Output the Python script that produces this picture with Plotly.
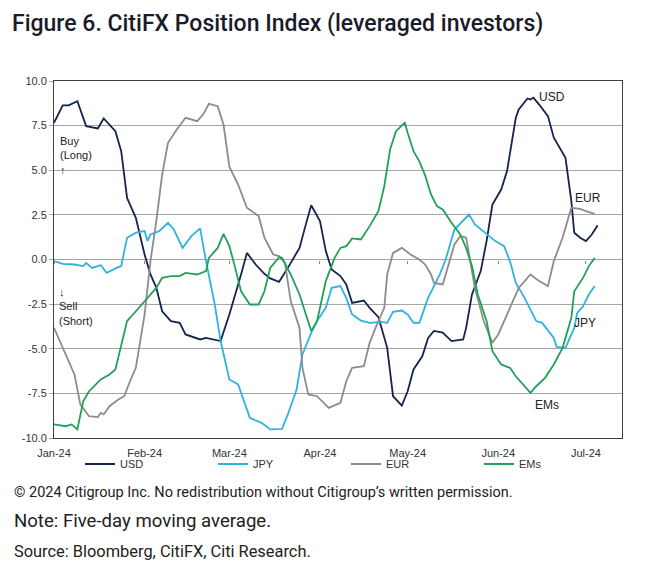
import numpy as np
import pandas as pd
import plotly.graph_objects as go

# ---- data (days since 2024-01-01, index value) ----
usd_day = [0,3,5,8,11, 15,17,21,23,24, 25,28,31,33,35, 37,40,43,45,50, 52,57,60,64,66,
           69,72,74,77,80, 84,86,88,91,93, 95,98,100,102,106, 108,111,114,116,119,
           121,123,126,128,130, 133,136,140,141,143, 146,148,150,153,155,
           158,159,162,163,164, 166,169,171,175,177, 178,180,182,184,186]
usd_val = [7.66,8.64,8.64,8.87,7.47, 7.34,7.9,7.19,6.07,4.76, 3.45,2.33,0.28,-0.84,-1.57,
           -2.9,-3.45,-3.55,-4.2,-4.48, -4.39,-4.57,-3.08,-0.84,0.37, -0.28,-0.8,-1.06,-1.25,-0.47,
           0.65,1.87,3.04,2.15,0.47, -0.56,-0.93,-1.4,-2.43,-2.3, -2.71,-3.23,-4.95,-7.66,-8.18,
           -7.38,-6.16,-5.42,-4.39,-4.0, -4.1,-4.57,-4.48,-3.83,-1.96, -0.65,1.03,3.08,3.92,4.95,
           7.94,8.4,9.02,8.96,9.06, 8.68,8.03,6.82,5.7,3.27, 1.5,1.22,1.03,1.4,1.92]

eur_day = [0,3,7,9,12, 15,16,17,19,22, 24,26,28,31,33, 35,37,39,42,45, 49,51,53,56,58,
           60,63,66,70,72, 75,77,79,81,84, 85,87,90,94,98, 100,102,106,108,110,
           113,114,116,119,122, 125,127,129,130,133, 134,137,139,141,142,
           144,147,150,152,154, 157,159,163,166,169, 171,174,177,180,182, 185]
eur_val = [-3.83,-4.95,-6.44,-8.12,-8.78, -8.83,-8.59,-8.68,-8.22,-7.84, -7.66,-6.82,-6.07,-3.08,-0.09,
           2.15,4.76,6.54,7.28,7.94, 7.75,8.12,8.72,8.59,7.56, 5.2,4.2,2.9,2.43,1.22,
           0.28,0.19,-0.19,-2.33,-3.83, -6.07,-7.56,-7.66,-8.31,-8.03, -6.82,-6.07,-5.98,-4.67,-3.83,
           -2.71,-0.84,0.37,0.65,0.28, 0,-0.28,-0.84,-1.31,-1.4, -0.84,0.84,1.31,1.22,0.28,
           -1.59,-3.45,-4.67,-4.2,-3.45, -2.33,-1.59,-0.84,-1.21,-1.49, -0.09,1.22,2.9,2.84,2.71, 2.56]

jpy_day = [0,3,7,10,11, 13,16,18,21,23, 25,28,31,32,33, 36,39,41,44,47, 50,52,55,57,60,
           63,67,71,74,78, 80,83,85,88,90, 93,95,98,100,102, 105,108,112,114,116,
           119,121,123,125,128, 132,134,137,140,142, 144,148,151,154,156,
           158,161,165,167,171, 172,175,178,179,181, 183,185]
jpy_val = [-0.09,-0.24,-0.28,-0.37,-0.19, -0.47,-0.32,-0.75,-0.5,-0.37, 1.22,1.5,1.59,1.03,1.4,
           1.59,2.06,1.68,0.65,1.31, 1.74,-0.09,-2.52,-4.57,-6.72, -7.0,-8.87,-9.15,-9.52,-9.49,
           -8.68,-7.28,-5.32,-4.11,-3.45, -2.71,-1.59,-1.49,-2.15,-3.08, -3.42,-3.55,-3.5,-3.55,-2.93,
           -2.86,-3.08,-3.55,-3.55,-2.15, -0.84,0,1.68,2.15,2.52, 1.96,1.4,1.03,0.75,-0.09,
           -1.31,-2.15,-3.45,-3.55,-4.39, -4.9,-4.95,-3.83,-2.99,-2.62, -1.96,-1.49]

ems_day = [0,4,6,8,10, 12,16,19,21,23, 25,28,32,35,37, 40,43,45,49,52, 53,56,58,60,62,
           64,67,70,72,74, 77,78,81,84,88, 90,93,96,98,100, 102,105,108,111,113,
           115,117,120,121,123, 125,127,129,131,133, 136,139,141,143,145,
           148,150,153,156,158, 161,163,165,168,171, 174,177,178,181,183, 185]
ems_val = [-9.24,-9.34,-9.24,-9.52,-7.94, -7.38,-6.72,-6.44,-6.16,-4.76, -3.45,-2.9,-2.18,-1.59,-1.03,
           -0.93,-0.93,-0.75,-0.84,-0.65, 0.09,0.65,1.44,0.75,-0.47, -1.78,-2.52,-2.52,-1.78,-0.47,
           0.13,0.09,-0.84,-1.96,-4.01, -3.45,-1.21,0.09,0.65,0.75, 1.18,1.12,1.87,2.71,4.11,
           6.16,7.19,7.66,7.1,6.07, 5.5,4.7,3.64,2.99,2.8, 2.06,1.4,0.65,-0.37,-1.96,
           -3.45,-5.14,-5.88,-6.07,-6.54, -7.1,-7.47,-7.1,-6.63,-5.88, -4.95,-3.27,-1.78,-1.03,-0.37, 0.09]

y_ticks = [10.0, 7.5, 5.0, 2.5, 0.0, -2.5, -5.0, -7.5, -10.0]
y_tick_labels = ["10.0", "7.5", "5.0", "2.5", "0.0", "-2.5", "-5.0", "-7.5", "-10.0"]

start = pd.Timestamp("2024-01-01")
def to_dates(days):
    return start + pd.to_timedelta(np.array(days, dtype=float), unit="D")

series = [
    ("USD", usd_day, usd_val, "#15234f"),
    ("JPY", jpy_day, jpy_val, "#2fb2e0"),
    ("EUR", eur_day, eur_val, "#8c8c8c"),
    ("EMs", ems_day, ems_val, "#22a05a"),
]

fig = go.Figure()
for name, d, v, c in series:
    fig.add_trace(go.Scatter(x=to_dates(d), y=v, mode="lines", name=name,
                             line=dict(color=c, width=1.8)))

x_range = ["2024-01-01", "2024-07-13 08:00"]
axis_font = dict(family="Liberation Sans, Arial, sans-serif", size=11, color="#333333")

fig.update_layout(
    width=648, height=565,
    margin=dict(l=54, r=26, t=81, b=127),
    paper_bgcolor="white", plot_bgcolor="white",
    font=axis_font,
    title=dict(text="Figure 6. CitiFX Position Index (leveraged investors)",
               font=dict(family="Roboto, sans-serif", size=23, color="#1a1a2a", weight=500),
               xref="container", yref="container", x=12/648, xanchor="left",
               y=1 - 23/565, yanchor="middle"),
    xaxis=dict(type="date", range=x_range, dtick="M1", tick0="2024-01-01",
               tickformat="%b-%y", showgrid=False, showline=True, linecolor="#404040",
               linewidth=1, mirror=True, ticks="outside", ticklen=5,
               tickcolor="rgba(0,0,0,0)", tickfont=axis_font, zeroline=False),
    xaxis2=dict(type="date", range=x_range, dtick="M1", tick0="2024-01-01",
                overlaying="x", anchor="free", position=0.5, side="bottom",
                showticklabels=False, showgrid=False, showline=False,
                ticks="outside", ticklen=3, tickcolor="#888888"),
    yaxis=dict(range=[-10, 10], tickvals=y_ticks, ticktext=y_tick_labels,
               showgrid=True, gridcolor="#a6a6a6", gridwidth=1,
               showline=True, linecolor="#404040", linewidth=1, mirror=True,
               ticks="outside", ticklen=4, tickcolor="#a6a6a6",
               tickfont=axis_font, zeroline=False),
    legend=dict(orientation="h", x=(80-54)/568, xanchor="left",
                y=(438-464)/357, yanchor="middle",
                entrywidth=88, entrywidthmode="pixels",
                font=axis_font, bgcolor="rgba(0,0,0,0)", tracegroupgap=0),
    showlegend=True,
)

# dummy trace to activate xaxis2 ticks
fig.add_trace(go.Scatter(x=[start], y=[None], xaxis="x2", showlegend=False,
                         hoverinfo="skip", mode="lines"))

ann_font = dict(family="Liberation Sans, Arial, sans-serif", size=11, color="#222222")
annotations = [
    dict(text="Buy<br>(Long)<br>↑", x=58, y=133, align="left"),
    dict(text="↓<br>Sell<br>(Short)", x=57, y=284, align="left"),
]
for a in annotations:
    fig.add_annotation(text=a["text"], xref="paper", yref="paper",
                       x=(a["x"]-54)/568, y=(438-a["y"])/357,
                       xanchor="left", yanchor="top", align=a["align"],
                       showarrow=False, font=ann_font)

labels = [("USD", 552, 97), ("EUR", 588, 198), ("JPY", 585, 323), ("EMs", 547, 405)]
for t, px, py in labels:
    fig.add_annotation(text=t, xref="paper", yref="paper",
                       x=(px-54)/568, y=(438-py)/357, xanchor="center", yanchor="middle",
                       showarrow=False, font=dict(family="Liberation Sans, Arial, sans-serif",
                                                  size=12, color="#222222"))

footer = [
    ("© 2024 Citigroup Inc. No redistribution without Citigroup’s written permission.", 493, 14.5),
    ("Note: Five-day moving average.", 521, 18.6),
    ("Source: Bloomberg, CitiFX, Citi Research.", 551, 16.4),
]
for t, py, sz in footer:
    fig.add_annotation(text=t, xref="paper", yref="paper",
                       x=(12-54)/568, y=(438-py)/357, xanchor="left", yanchor="middle",
                       showarrow=False,
                       font=dict(family="Roboto, sans-serif", size=sz, color="#222222"))

fig.write_html("out.html", config={"displayModeBar": False},
               post_script="document.body.style.margin='0';")
